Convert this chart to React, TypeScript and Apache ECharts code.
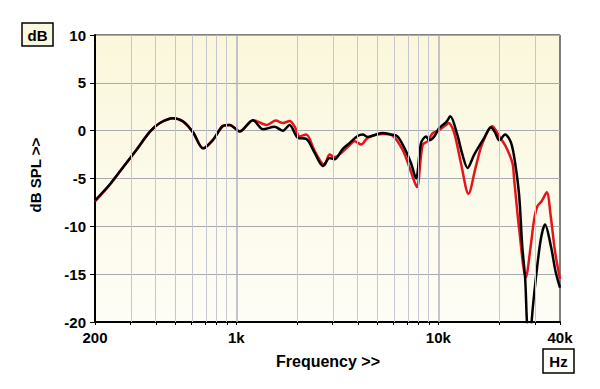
import React, { useEffect, useRef } from "react";
import * as echarts from "echarts";

// Frequencies in Hz, levels in dB
const blackFreq = [200, 237, 276, 321, 374, 419, 487, 546, 612, 685, 768, 860, 928, 1040, 1210, 1356, 1548, 1702, 1836, 2018, 2220, 2440, 2683, 2894, 3062, 3367, 3634, 3990, 4227, 4474, 4922, 5306, 5838, 6272, 6790, 7328, 7758, 8211, 8690, 9020, 9552, 10110, 10940, 11460, 12400, 13120, 13950, 15050, 16870, 18200, 19100, 20000, 21420, 22930, 24000, 25120, 26000, 26900, 27400, 28200, 29020, 30360, 32140, 33740, 36000, 38100, 40000];
const blackDb = [-7.3, -5.6, -3.8, -2.0, -0.1, 0.8, 1.3, 0.95, -0.2, -1.85, -0.95, 0.5, 0.6, -0.1, 1.1, 0.15, 0.4, 0.0, 0.6, -0.75, -0.85, -2.3, -3.7, -2.85, -3.0, -1.9, -1.3, -0.55, -0.4, -0.65, -0.4, -0.25, -0.4, -0.6, -1.8, -3.4, -5.0, -1.3, -0.6, -1.0, -0.6, 0.3, 0.9, 1.5, -0.4, -2.4, -3.9, -2.5, -0.75, 0.35, -0.2, -1.0, -0.4, -1.3, -3.4, -6.8, -12, -15.5, -19.7, -24, -19.7, -15.5, -11.35, -9.8, -12, -14.8, -16.4];

const redFreq = [200, 237, 276, 321, 374, 419, 487, 546, 612, 685, 768, 860, 928, 1040, 1210, 1415, 1570, 1702, 1836, 1944, 2057, 2220, 2440, 2730, 2894, 3062, 3580, 3846, 4150, 4474, 5306, 5920, 6660, 7186, 7604, 7846, 8360, 8850, 9370, 9910, 10910, 11250, 11990, 12940, 14100, 15350, 16540, 18520, 20000, 21560, 23270, 23720, 25120, 27100, 28680, 29780, 30920, 32500, 34400, 36000, 37840, 40000];
const redDb = [-7.4, -5.65, -3.8, -2.0, -0.1, 0.8, 1.3, 0.95, -0.2, -1.85, -0.95, 0.5, 0.6, -0.05, 1.1, 0.6, 1.05, 0.8, 1.0, 0.45, -0.6, -0.4, -2.1, -3.6, -2.5, -2.75, -1.65, -1.1, -1.45, -0.75, -0.35, -0.5, -2.0, -3.8, -5.3, -5.9, -1.5, -1.1, -0.25, -0.05, 0.6, 0.8, -0.25, -3.4, -6.6, -3.7, -1.3, 0.45, -0.6, -1.65, -3.4, -5.1, -10.3, -15.35, -12, -9.3, -7.9, -7.35, -6.45, -8.95, -12.7, -15.5];

const freqMin = 200;
const freqMax = 40000;
const labelFreqs = [200, 1000, 10000, 40000];
const minorFreqs = [300, 400, 500, 600, 700, 800, 900, 2000, 3000, 4000, 5000, 6000, 7000, 8000, 9000, 20000, 30000];
const majorFreqs = [1000, 10000];
const yMin = -20;
const yMax = 10;
const yStep = 5;

const FONT = "'Liberation Sans', Arial, sans-serif";

function fmtFreq(v: number): string {
  const f = Math.round(Math.pow(10, v));
  return f >= 1000 ? f / 1000 + "k" : String(f);
}

export default function App() {
  const ref = useRef<HTMLDivElement>(null);
  useEffect(() => {
    if (!ref.current) return;
    const chart = echarts.init(ref.current, undefined, { renderer: "svg" });
    const lg = (f: number) => Math.log10(f);
    const tickVals = [freqMin, ...minorFreqs, ...majorFreqs, freqMax].map(lg);
    const option: any = {
      animation: false,
      backgroundColor: "#ffffff",
      grid: {
        left: 95,
        right: 40,
        top: 35,
        bottom: 67,
        show: true,
        borderColor: "#000",
        borderWidth: 1,
        backgroundColor: new echarts.graphic.LinearGradient(0, 0, 0, 1, [
          { offset: 0, color: "#faf7db" },
          { offset: 1, color: "#fefdf6" },
        ]),
      },
      xAxis: {
        type: "value",
        min: lg(freqMin),
        max: lg(freqMax),
        axisLine: { show: true, onZero: false, lineStyle: { color: "#000", width: 2 } },
        axisTick: { show: true, length: 3, customValues: tickVals, lineStyle: { color: "#000", width: 1 } },
        axisLabel: {
          customValues: labelFreqs.map(lg),
          formatter: (v: number) => fmtFreq(v),
          margin: 8,
          color: "#000",
          fontFamily: FONT,
          fontWeight: "bold",
          fontSize: 15,
        },
        splitLine: { show: false },
      },
      yAxis: {
        type: "value",
        min: yMin,
        max: yMax,
        interval: yStep,
        axisLine: { show: true, lineStyle: { color: "#000", width: 2 } },
        axisTick: { show: true, length: 5, lineStyle: { color: "#000", width: 1 } },
        axisLabel: { margin: 9, color: "#000", fontFamily: FONT, fontWeight: "bold", fontSize: 15 },
        splitLine: { show: true, lineStyle: { color: "#a9a9b2", width: 1 } },
      },
      graphic: [
        { type: "rect", shape: { x: 22, y: 23, width: 31, height: 23 }, style: { fill: "#fbf8e0", stroke: "#000", lineWidth: 1.5 } },
        { type: "text", x: 37.5, y: 35, style: { text: "dB", align: "center", verticalAlign: "middle", fill: "#000", font: `bold 15px ${FONT}` } },
        { type: "rect", shape: { x: 543, y: 349, width: 31, height: 24 }, style: { fill: "#fffffa", stroke: "#000", lineWidth: 1.5 } },
        { type: "text", x: 558.5, y: 361.5, style: { text: "Hz", align: "center", verticalAlign: "middle", fill: "#000", font: `bold 15px ${FONT}` } },
        { type: "text", x: 35, y: 175, rotation: Math.PI / 2, style: { text: "dB SPL >>", align: "center", verticalAlign: "middle", fill: "#000", font: `bold 15px ${FONT}` } },
        { type: "text", x: 328, y: 361, style: { text: "Frequency >>", align: "center", verticalAlign: "middle", fill: "#000", font: `bold 16px ${FONT}` } },
      ],
      series: [
        {
          type: "line",
          z: 1,
          data: [],
          silent: true,
          markLine: {
            silent: true,
            symbol: "none",
            label: { show: false },
            animation: false,
            data: [
              ...minorFreqs.map((f) => ({ xAxis: lg(f), lineStyle: { color: "#c6c6d2", width: 1, type: "solid" } })),
              ...majorFreqs.map((f) => ({ xAxis: lg(f), lineStyle: { color: "#b0b0bc", width: 1.5, type: "solid" } })),
            ],
          },
        },
        {
          type: "line",
          name: "red",
          z: 3,
          data: redFreq.map((f, i) => [lg(f), redDb[i]]),
          showSymbol: false,
          smooth: 0.3,
          clip: true,
          lineStyle: { color: "#e3151b", width: 2.5 },
        },
        {
          type: "line",
          name: "black",
          z: 4,
          data: blackFreq.map((f, i) => [lg(f), blackDb[i]]),
          showSymbol: false,
          smooth: 0.3,
          clip: true,
          lineStyle: { color: "#000", width: 2.5 },
        },
      ],
    };
    chart.setOption(option);
    return () => chart.dispose();
  }, []);
  return (
    <div
      ref={ref}
      style={{ position: "fixed", left: 0, top: 0, width: 600, height: 389, background: "#fff" }}
    />
  );
}
